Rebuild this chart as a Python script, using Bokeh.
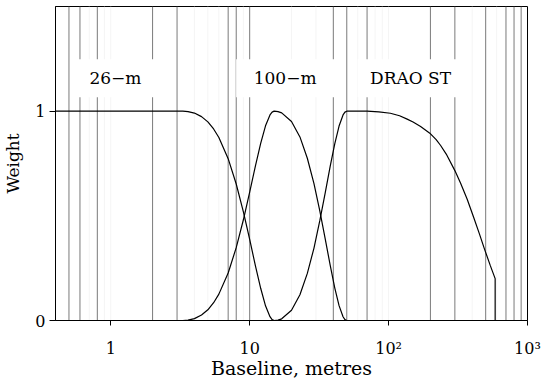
from bokeh.plotting import figure
from bokeh.models import Range1d, FixedTicker, BasicTickFormatter
from bokeh.core.properties import value
from bokeh.embed import file_html
from bokeh.resources import INLINE

FONT = "DejaVu Serif"

# ---- data ----
x_ticks = [1, 10, 100, 1000]
x_tick_labels = ["1", "10", "10\u00b2", "10\u00b3"]
y_ticks = [0, 1]

grid_dark = [0.5, 0.6, 0.8, 2, 3, 7, 8, 10, 40, 50, 70, 200, 300, 500, 700, 800, 900]
grid_faint = [0.7, 0.9, 1, 4, 5, 6, 9, 20, 30, 60, 80, 90, 100, 400, 600]

base_26m = [0.4, 3.3, 3.6, 4.0, 4.5, 5.0, 5.5, 6.0, 7.0, 8.0, 9.0, 10.0, 11.0, 12.0,
            13.0, 14.0, 14.5, 15.0]
weight_26m = [1.0, 1.0, 0.998, 0.991, 0.974, 0.949, 0.915, 0.874, 0.773, 0.652, 0.520,
              0.387, 0.261, 0.154, 0.070, 0.018, 0.0045, 0.0]

base_100m = [3.3, 3.6, 4.0, 4.5, 5.0, 5.5, 6.0, 7.0, 8.0, 9.0, 10.0, 11.0, 12.0, 13.0,
             14.0, 14.5, 15.0, 16.0, 17.0, 20.0, 23.0, 26.0, 29.0, 32.0, 35.0, 38.0,
             41.0, 44.0, 47.0, 48.5, 50.0]
weight_100m = [0.0, 0.002, 0.009, 0.026, 0.051, 0.085, 0.126, 0.227, 0.348, 0.480, 0.613,
               0.739, 0.846, 0.930, 0.982, 0.9955, 1.0, 0.998, 0.992, 0.951, 0.877, 0.775,
               0.655, 0.522, 0.389, 0.263, 0.155, 0.071, 0.018, 0.0045, 0.0]

base_st = [15.0, 16.0, 17.0, 20.0, 23.0, 26.0, 29.0, 32.0, 35.0, 38.0, 41.0, 44.0, 47.0,
           48.5, 50.0, 70.0, 85.0, 103.0, 120.0, 136.0, 150.0, 170.0, 198.0, 220.0,
           237.0, 260.0, 300.0, 330.0, 368.0, 410.0, 450.0, 491.0, 540.0, 585.0, 585.0]
weight_st = [0.0, 0.002, 0.008, 0.049, 0.123, 0.225, 0.345, 0.478, 0.611, 0.737, 0.845,
             0.929, 0.982, 0.9955, 1.0, 1.0, 0.997, 0.990, 0.978, 0.962, 0.948, 0.927,
             0.895, 0.864, 0.836, 0.795, 0.716, 0.656, 0.579, 0.492, 0.415, 0.340,
             0.262, 0.200, 0.0]

label_text = ["26\u2212m", "100\u2212m", "DRAO ST"]
label_x = [1.08, 18.0, 144.0]
label_y = [1.157, 1.157, 1.157]
label_box_w = [86, 98, 106]

# ---- figure ----
p = figure(width=545, height=381, x_axis_type="log",
           x_range=Range1d(0.4, 1000), y_range=Range1d(0, 1.5),
           output_backend="svg", toolbar_location=None,
           min_border_left=55, min_border_right=18, min_border_top=6,
           min_border_bottom=60)
p.xgrid.visible = False
p.ygrid.visible = False
p.outline_line_color = "black"
p.outline_line_width = 1
p.background_fill_color = "white"
p.border_fill_color = "white"

# vertical lines
p.segment(x0=grid_faint, y0=0, x1=grid_faint, y1=1.5, line_color="#f5f5f5",
          line_width=1, level="underlay")
p.segment(x0=grid_dark, y0=0, x1=grid_dark, y1=1.5, line_color="#7a7a7a",
          line_width=1, level="underlay")

# curves
for xs, ys in [(base_26m, weight_26m), (base_100m, weight_100m), (base_st, weight_st)]:
    p.line(xs, ys, line_color="black", line_width=1.2)

# labels with white boxes
p.rect(x=label_x, y=label_y, width=label_box_w, height=38, width_units="screen",
       height_units="screen", fill_color="white", line_color=None)
p.text(x=label_x, y=label_y, text=label_text, text_align="center",
       text_baseline="middle", text_font=value(FONT), text_font_size="17px",
       text_color="black")

# axes
p.xaxis.ticker = FixedTicker(ticks=x_ticks, minor_ticks=[])
p.xaxis.formatter = BasicTickFormatter()
p.xaxis.major_label_overrides = dict(zip(x_ticks, x_tick_labels))
p.yaxis.ticker = FixedTicker(ticks=y_ticks, minor_ticks=[])

for ax in (p.xaxis[0], p.yaxis[0]):
    ax.axis_line_color = "black"
    ax.axis_line_width = 1
    ax.major_tick_line_color = "black"
    ax.major_tick_in = 0
    ax.minor_tick_line_color = None
    ax.major_label_text_font = FONT
    ax.major_label_text_font_size = "16px"
    ax.major_label_text_color = "black"
    ax.axis_label_text_font = FONT
    ax.axis_label_text_font_style = "normal"
    ax.axis_label_text_color = "black"

p.xaxis.axis_label = "Baseline, metres"
p.xaxis.major_tick_out = 5
p.xaxis.major_label_standoff = 13
p.xaxis.axis_label_standoff = -4
p.xaxis.axis_label_text_font_size = "19px"

p.yaxis.axis_label = "Weight"
p.yaxis.major_tick_out = 6
p.yaxis.major_label_standoff = 4
p.yaxis.axis_label_standoff = 9
p.yaxis.axis_label_text_font_size = "17px"

open("out.html", "w").write(file_html(p, INLINE))
